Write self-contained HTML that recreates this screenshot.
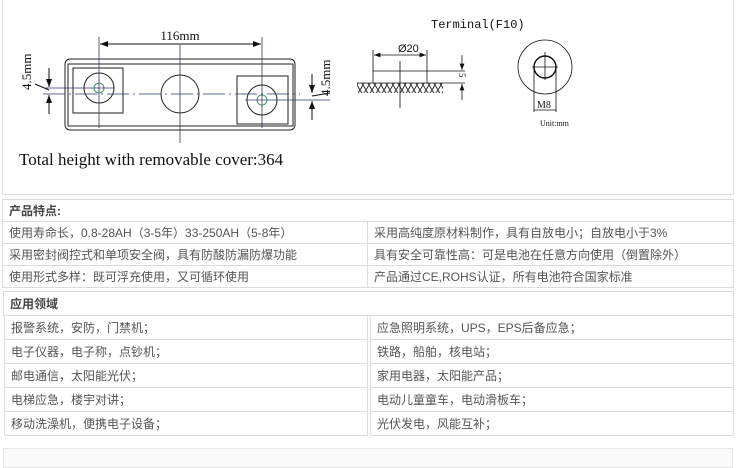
<!DOCTYPE html>
<html><head><meta charset="utf-8"><style>
body{margin:0;width:736px;height:455px;background:#fff;position:relative;overflow:hidden;font-family:"Liberation Sans","Noto Sans CJK SC",sans-serif;}
.box{position:absolute;border:1px solid #dcdcdc;box-sizing:border-box;}
.t{position:absolute;font-size:12px;color:#555;line-height:22px;white-space:nowrap;}
.cell{position:absolute;border:1px solid #dcdcdc;box-sizing:border-box;font-size:12px;color:#555;padding-left:6px;white-space:nowrap;}
.hd{font-weight:bold;color:#444;}
</style></head><body>
<div class="box" style="left:2px;top:-2px;width:732px;height:197px;"></div>
<svg style="position:absolute;left:0;top:0" width="736" height="195">
<defs><pattern id="h" width="6" height="10" patternUnits="userSpaceOnUse"><path d="M0 0L6 10M6 0L0 10" stroke="#333" stroke-width="1"/></pattern>
<marker id="a" markerWidth="8" markerHeight="6" refX="8" refY="3" orient="auto"><path d="M0 0L8 3L0 6z" fill="#111"/></marker></defs>
<g fill="none" stroke="#222" stroke-width="1">
<rect x="65" y="59" width="230" height="71" rx="5"/>
<rect x="68" y="64" width="225" height="62"/>
<rect x="73" y="68" width="50" height="45"/>
<rect x="237" y="76" width="51" height="48"/>
<circle cx="99" cy="88" r="15"/><circle cx="262" cy="100" r="15"/>
<circle cx="180" cy="94" r="19"/>
</g>
<g fill="none" stroke="#2a3a6a" stroke-width="0.8">
<circle cx="99" cy="88" r="5" stroke="#2a7a4a"/><circle cx="262" cy="100" r="5" stroke="#2a7a4a"/>
<line x1="99" y1="37" x2="99" y2="128"/><line x1="262" y1="37" x2="262" y2="128"/>
<line x1="180" y1="45" x2="180" y2="143"/>
<line x1="43" y1="94" x2="300" y2="94" stroke-dasharray="22,4,2,4"/>
<line x1="45" y1="88" x2="115" y2="88"/>
<line x1="245" y1="100" x2="330" y2="100"/>
</g>
<g stroke="#111" stroke-width="1" fill="none">
<line x1="115" y1="44" x2="100" y2="44" marker-end="url(#a)"/><line x1="115" y1="44" x2="246" y2="44"/><line x1="246" y1="44" x2="261" y2="44" marker-end="url(#a)"/>
<line x1="49" y1="68" x2="49" y2="87" marker-end="url(#a)"/><line x1="49" y1="114" x2="49" y2="95" marker-end="url(#a)"/>
<line x1="312" y1="74" x2="312" y2="93" marker-end="url(#a)"/><line x1="312" y1="120" x2="312" y2="101" marker-end="url(#a)"/>
<line x1="35" y1="84" x2="49" y2="90"/><line x1="312" y1="96" x2="330" y2="93"/>
</g>
<text x="180" y="40" font-family="Liberation Serif" font-size="13" text-anchor="middle" fill="#111">116mm</text>
<text transform="translate(31,90) rotate(-90)" font-family="Liberation Serif" font-size="13" fill="#111">4.5mm</text>
<text transform="translate(330,96) rotate(-90)" font-family="Liberation Serif" font-size="13" fill="#111">4.5mm</text>
<text x="19" y="165" font-family="Liberation Serif" font-size="17" fill="#111">Total height with removable cover:364</text>
<text x="431" y="28" font-family="Liberation Mono" font-size="12" fill="#111">Terminal(F10)</text>
<rect x="357" y="83" width="86" height="10" fill="url(#h)"/>
<g stroke="#111" stroke-width="0.8" fill="none">
<line x1="357" y1="83" x2="443" y2="83"/>
<line x1="373" y1="50" x2="373" y2="83"/><line x1="427" y1="50" x2="427" y2="83"/>
<line x1="373" y1="71" x2="465" y2="71"/>
<line x1="400" y1="61" x2="400" y2="108"/>
<line x1="381" y1="55" x2="374" y2="55" marker-end="url(#a)"/><line x1="381" y1="55" x2="419" y2="55"/><line x1="419" y1="55" x2="426" y2="55" marker-end="url(#a)"/>
<line x1="443" y1="83" x2="465" y2="83"/>
<line x1="462" y1="55" x2="462" y2="70" marker-end="url(#a)"/><line x1="462" y1="100" x2="462" y2="84" marker-end="url(#a)"/>
<circle cx="545" cy="67" r="27"/><circle cx="545" cy="67" r="11" stroke-width="1.5"/>
<line x1="545" y1="52" x2="545" y2="80"/><line x1="532" y1="67" x2="558" y2="67"/>
<line x1="534" y1="67" x2="534" y2="112"/><line x1="556" y1="67" x2="556" y2="112"/>
<line x1="534" y1="110" x2="556" y2="110"/>
</g>
<text x="398" y="52" font-family="Liberation Sans" font-size="11" fill="#111">Ø20</text>
<text transform="translate(459,73) rotate(90)" font-family="Liberation Serif" font-size="9" fill="#111">5</text>
<text x="537" y="108" font-family="Liberation Serif" font-size="10" fill="#111">M8</text>
<text x="540" y="126" font-family="Liberation Serif" font-size="8" fill="#111">Unit:mm</text>
</svg>

<div class="cell hd" style="left:2px;top:199px;width:732px;height:23px;line-height:23px;">产品特点:</div>
<div class="cell" style="left:2px;top:221px;width:366px;height:23px;line-height:22px;">使用寿命长，0.8-28AH（3-5年）33-250AH（5-8年）</div>
<div class="cell" style="left:367px;top:221px;width:367px;height:23px;line-height:22px;">采用高纯度原材料制作，具有自放电小；自放电小于3%</div>
<div class="cell" style="left:2px;top:243px;width:366px;height:23px;line-height:22px;">采用密封阀控式和单项安全阀，具有防酸防漏防爆功能</div>
<div class="cell" style="left:367px;top:243px;width:367px;height:23px;line-height:22px;">具有安全可靠性高：可是电池在任意方向使用（倒置除外）</div>
<div class="cell" style="left:2px;top:265px;width:366px;height:23px;line-height:22px;">使用形式多样：既可浮充使用，又可循环使用</div>
<div class="cell" style="left:367px;top:265px;width:367px;height:23px;line-height:22px;">产品通过CE,ROHS认证，所有电池符合国家标准</div>

<div class="cell hd" style="left:3px;top:291px;width:731px;height:25px;line-height:25px;">应用领域</div>
<div class="cell" style="left:4px;top:315px;width:364px;height:25px;line-height:24px;">报警系统，安防，门禁机；</div>
<div class="cell" style="left:370px;top:315px;width:364px;height:25px;line-height:24px;">应急照明系统，UPS，EPS后备应急；</div>
<div class="cell" style="left:4px;top:339px;width:364px;height:25px;line-height:24px;">电子仪器，电子称，点钞机；</div>
<div class="cell" style="left:370px;top:339px;width:364px;height:25px;line-height:24px;">铁路，船舶，核电站；</div>
<div class="cell" style="left:4px;top:363px;width:364px;height:25px;line-height:24px;">邮电通信，太阳能光伏；</div>
<div class="cell" style="left:370px;top:363px;width:364px;height:25px;line-height:24px;">家用电器，太阳能产品；</div>
<div class="cell" style="left:4px;top:387px;width:364px;height:25px;line-height:24px;">电梯应急，楼宇对讲；</div>
<div class="cell" style="left:370px;top:387px;width:364px;height:25px;line-height:24px;">电动儿童童车，电动滑板车；</div>
<div class="cell" style="left:4px;top:411px;width:364px;height:25px;line-height:24px;">移动洗澡机，便携电子设备；</div>
<div class="cell" style="left:370px;top:411px;width:364px;height:25px;line-height:24px;">光伏发电，风能互补；</div>
<div class="box" style="left:3px;top:448px;width:730px;height:20px;background:#fafafa;border-color:#e6e6e6;"></div>
</body></html>
